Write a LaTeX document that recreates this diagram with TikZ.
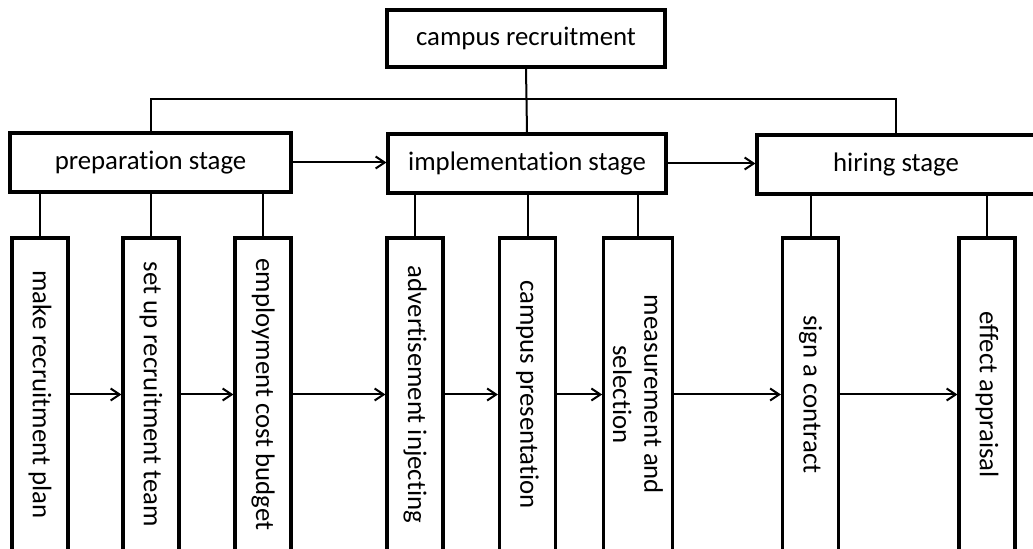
\documentclass[tikz,border=0pt]{standalone}
\usepackage{fontspec}
\setmainfont{Carlito}[Ligatures=NoCommon]
\usepackage{graphicx}
\usetikzlibrary{arrows.meta}
\newcommand{\sidetext}[1]{\rotatebox[origin=c]{-90}{#1}}

\begin{document}
\begin{tikzpicture}
    [
      x=0.5pt, y=-0.5pt,
      stagebox/.style=
      {
        draw,
        line width=1.6pt,
        align=center,
        inner sep=0pt,
        minimum height=29.5pt,
        minimum width=139pt,
        fill=white,
        text=black,
        font=\fontsize{13.4}{15.6}\selectfont
      },
      taskbox/.style=
      {
        draw,
        line width=1.6pt,
        align=center,
        inner sep=0pt,
        minimum height=156.5pt,
        minimum width=28pt,
        fill=white,
        text=black,
        font=\fontsize{13.4}{15.6}\selectfont
      },
      link/.style={line width=1pt},
      flow/.style={line width=1pt, -{Straight Barb[length=4.5pt,width=6pt]}}
    ]
    \useasboundingbox (0,0) rectangle (1033,549);

    % top and stages
    \node[stagebox, minimum height=28.5pt](Campus) at (526,38.5) {campus recruitment};
    \node[stagebox, minimum width=140.5pt](Prep) at (150.5,162.5) {preparation stage};
    \node[stagebox](Impl) at (527,163.5) {implementation stage};
    \node[stagebox](Hire) at (896,164.5) {hiring stage};
    \coordinate (Bus) at (526,99);

    % tasks
    \node[taskbox](PlanBox) at (40,394.5) {\sidetext{make recruitment plan}};
    \node[taskbox](TeamBox) at (151,394.5) {\sidetext{set up recruitment team}};
    \node[taskbox](BudgetBox) at (263,394.5) {\sidetext{employment cost budget}};
    \node[taskbox](AdBox) at (415,394.5) {\sidetext{advertisement injecting}};
    \node[taskbox](TalkBox) at (527.5,394.5) {\sidetext{campus presentation}};
    \node[taskbox](TestBox) at (638,394.5)
    {
      \sidetext{\begin{tabular}{@{}c@{}}measurement and\\selection\end{tabular}}
    };
    \node[taskbox](SignBox) at (810.5,394.5) {\sidetext{sign a contract}};
    \node[taskbox](CheckBox) at (987,394.5) {\sidetext{effect appraisal}};

    % tree links
    \draw[link] (Campus.south) -- (Impl.north);
    \draw[link] (Prep.north) |- (Bus) -| (Hire.north);
    \foreach \t in {PlanBox, TeamBox, BudgetBox}
      \draw[link] (\t.north |- Prep.south) -- (\t.north);
    \foreach \t in {AdBox, TalkBox, TestBox}
      \draw[link] (\t.north |- Impl.south) -- (\t.north);
    \foreach \t in {SignBox, CheckBox}
      \draw[link] (\t.north |- Hire.south) -- (\t.north);

    % flow arrows
    \draw[flow] (Prep.east) -- (Prep.east -| Impl.west);
    \draw[flow] (Impl.east) -- (Impl.east -| Hire.west);
    \draw[flow] (PlanBox) -- (TeamBox);
    \draw[flow] (TeamBox) -- (BudgetBox);
    \draw[flow] (BudgetBox) -- (AdBox);
    \draw[flow] (AdBox) -- (TalkBox);
    \draw[flow] (TalkBox) -- (TestBox);
    \draw[flow] (TestBox) -- (SignBox);
    \draw[flow] (SignBox) -- (CheckBox);
  \end{tikzpicture}
\end{document}
